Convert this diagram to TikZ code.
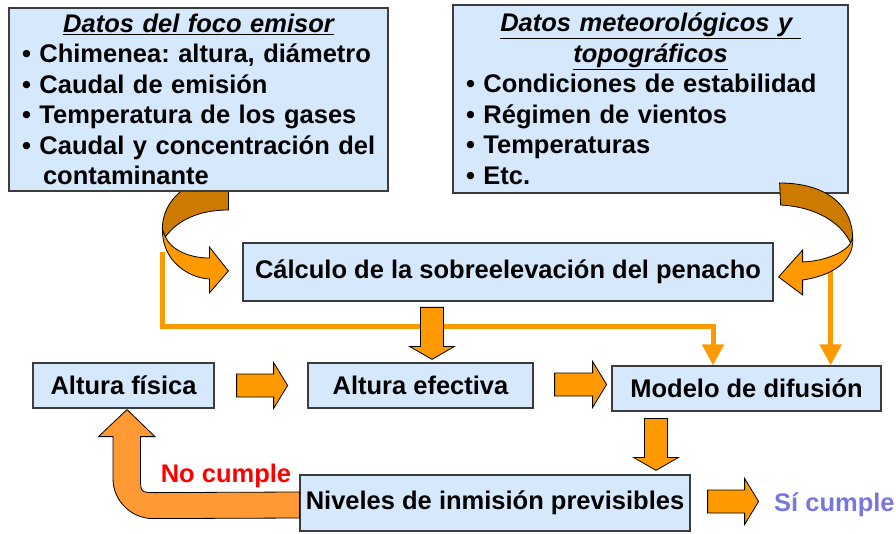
\documentclass[tikz,border=0pt]{standalone}
\usepackage{fontspec}
\setmainfont{Liberation Sans}
\usetikzlibrary{calc,arrows.meta,backgrounds}
\frenchspacing

\definecolor{cajaazul}{RGB}{214,232,252}
\definecolor{bordecaja}{RGB}{60,60,60}
\definecolor{naranja}{RGB}{255,153,0}
\definecolor{naranjaosc}{RGB}{204,122,0}
\definecolor{naranjau}{RGB}{255,153,51}
\definecolor{lila}{RGB}{120,120,220}

\tikzset{
  caja/.style={draw=bordecaja, line width=1.2pt, fill=cajaazul, inner sep=0pt,
    font=\fontsize{25.5}{30.5}\selectfont\bfseries},
  datos/.style={caja, align=left},
  etiq/.style={inner sep=0pt, font=\fontsize{25.5}{30.5}\selectfont\bfseries},
  blk/.style={draw=black, line width=0.8pt, fill=naranja},
  feed/.style={draw=naranja, line width=5pt, -{Triangle[width=21pt,length=21pt]}}
}

% una linea con vineta, sin cortes
\newcommand{\itm}[1]{\mbox{\textbullet\ #1}}
% flecha gruesa hacia la derecha: punto de partida, longitud
\newcommand{\rblock}[2]{%
  \draw[blk] #1 ++(0,-11.5) -- ++({#2-14},0) -- ++(0,-11.5) -- ++(14,23)
    -- ++(-14,23) -- ++(0,-11.5) -- ++({14-#2},0) -- cycle;}
% flecha gruesa hacia abajo: punto de partida, longitud
\newcommand{\dblock}[2]{%
  \draw[blk] #1 ++(-11.5,0) -- ++(0,{#2-13}) -- ++(-11,0) -- ++(22.5,13)
    -- ++(22.5,-13) -- ++(-11,0) -- ++(0,{13-#2}) -- cycle;}

\begin{document}
\begin{tikzpicture}[x=1pt,y=-1pt]
\useasboundingbox (0,0) rectangle (896,534);

% cajas de datos
\node[datos, minimum width=379, minimum height=183, text width=353, inner xsep=13] (foco) at (198.5,99.5)
  {\makebox[\hsize]{\emph{\underline{Datos del foco emisor}}}\\
   \itm{Chimenea: altura, diámetro}\\
   \itm{Caudal de emisión}\\
   \itm{Temperatura de los gases}\\
   \itm{Caudal y concentración del}\\
   \mbox{\hspace*{21pt}contaminante}};
\node[datos, minimum width=395, minimum height=188, text width=369, inner xsep=13] (meteo) at (650.5,99)
  {\makebox[\hsize]{\emph{\underline{Datos meteorológicos y\ }}}\\
   \makebox[\hsize]{\emph{\underline{topográficos}}}\\
   \itm{Condiciones de estabilidad}\\
   \itm{Régimen de vientos}\\
   \itm{Temperaturas}\\
   \itm{Etc.}};

% cajas del proceso
\node[caja, minimum width=530, minimum height=58] (calc) at (508,272) {Cálculo de la sobreelevación del penacho};
\node[caja, minimum width=181, minimum height=45] (fis) at (123.5,385.5) {Altura física};
\node[caja, minimum width=225, minimum height=45] (efe) at (420.5,385.5) {Altura efectiva};
\node[caja, minimum width=269, minimum height=45] (mod) at (746.5,388.5) {Modelo de difusión};
\node[caja, minimum width=390, minimum height=56] (niv) at (495,503) {Niveles de inmisión previsibles};
\node[etiq, text=red] (no) at (226,476) {No cumple};
\node[etiq, text=lila, anchor=west] (si) at (774,505) {Sí cumple};

\coordinate (lsrc) at ($(calc.west)+(-80,-20)$);
\coordinate (rsrc) at ($(calc.east)+(57,-2)$);
\coordinate (utip) at ($(fis.south)+(3.5,1)$);

\begin{scope}[on background layer]
  \draw[feed] (lsrc) |- ($(mod.north)+(-33.5,-39)$) -- ($(mod.north)+(-33.5,0)$);
  \draw[feed] (rsrc) -- (rsrc |- mod.north);
  % flecha curva del foco emisor
  \begin{scope}[shift={(calc.west)}]
    \draw[blk, fill=naranjaosc] (-14,-96) .. controls (-53,-96) and (-81,-72) .. (-80,-42)
      -- (-77,-35) .. controls (-65,-52) and (-43,-62) .. (-14,-62) -- cycle;
    \draw[blk] (-80,-42) .. controls (-80,-10) and (-53,6) .. (-33,7) -- (-33,21) -- (-14,-1)
      -- (-33,-25) -- (-33,-14) .. controls (-53,-14) and (-71,-22) .. (-77,-35) -- cycle;
  \end{scope}
\end{scope}

% flecha curva de los datos meteorologicos
\begin{scope}[shift={(calc.east)}]
  \draw[blk, fill=naranjaosc] (6,-89) .. controls (52,-89) and (79,-67) .. (79,-34)
    -- (77,-29) .. controls (67,-50) and (42,-65) .. (7,-67) -- cycle;
  \draw[blk] (79,-34) .. controls (81,-10) and (57,4) .. (29,8) -- (29,23) -- (5,5)
    -- (29,-22) -- (29,-10) .. controls (52,-11) and (72,-20) .. (77,-29) -- cycle;
\end{scope}

% flechas gruesas
\rblock{($(fis.east)+(22,0)$)}{51}
\rblock{($(efe.east)+(21,-1)$)}{52}
\rblock{($(niv.east)+(17,-1.5)$)}{51}
\dblock{($(efe.north)+(11.5,-55)$)}{52}
\dblock{($(niv.north)+(161,-56)$)}{52}

% vuelta a la altura fisica
\draw[blk, fill=naranjau] ($(niv.west)+(0,-11)$) -- ($(utip)+(29.5,83)$)
  .. controls +(-16,0) and +(0,16) .. ++(-16,-16) -- ($(utip)+(13.5,27)$) -- ++(14.5,0)
  -- (utip) -- ($(utip)+(-28.5,27)$) -- ++(14.5,0) -- ++(0,42)
  .. controls +(0,22) and +(-22,0) .. ++(40,40) -- ($(niv.west)+(0,15)$) -- cycle;
\end{tikzpicture}
\end{document}
